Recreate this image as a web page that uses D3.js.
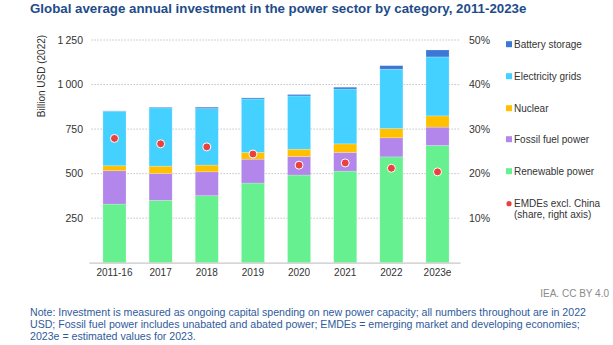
<!DOCTYPE html>
<html>
<head>
<meta charset="utf-8">
<script src="https://cdn.jsdelivr.net/npm/d3@7"></script>
<style>
  body { margin: 0; background: #fff; }
  svg { font-family: "Liberation Sans", Arial, sans-serif; }
</style>
</head>
<body>
<svg id="chart" width="613" height="345"></svg>
<script>
"use strict";

// data (billion USD 2022, share in %)
const years = ['2011-16', '2017', '2018', '2019', '2020', '2021', '2022', '2023e'];
const renewable = [329, 350, 376, 447, 492, 514, 594, 658];
const fossil = [187, 151, 134, 134, 104, 105, 107, 103];
const nuclear = [28, 41, 38, 38, 41, 48, 52, 63];
const grids = [306, 327, 317, 300, 299, 308, 333, 331];
const battery = [2, 4, 8, 6, 8, 10, 20, 39];
const emdeShare = [27.9, 26.7, 26.0, 24.4, 21.9, 22.4, 21.2, 20.4];

const leftTicks = [250, 500, 750, 1000, 1250];
const rightTicks = [10, 20, 30, 40, 50];

const series = [
  { key: 'renewable', name: 'Renewable power', color: '#66f08f', values: renewable },
  { key: 'fossil', name: 'Fossil fuel power', color: '#b286ea', values: fossil },
  { key: 'nuclear', name: 'Nuclear', color: '#ffc000', values: nuclear },
  { key: 'grids', name: 'Electricity grids', color: '#45d1ff', values: grids },
  { key: 'battery', name: 'Battery storage', color: '#3b78d6', values: battery }
];

(function () {
  let svg = d3.select('#chart');

  let plotLeft = 91.4, plotRight = 460.6, plotTop = 40, plotBottom = 262.7;

  let x = d3.scaleBand().domain(years).range([plotLeft, plotRight]).paddingInner(0.5).paddingOuter(0.25);
  let y = d3.scaleLinear().domain([0, 1250]).range([plotBottom, plotTop]);
  let y2 = d3.scaleLinear().domain([0, 50]).range([plotBottom, plotTop]);

  // title
  svg.append('text')
    .attr('x', 30).attr('y', 13)
    .attr('fill', '#1e4c8a')
    .style('font-weight', 'bold')
    .style('font-size', '13.3px')
    .text('Global average annual investment in the power sector by category, 2011-2023e');

  // gridlines
  svg.append('g').selectAll('line').data(leftTicks).enter().append('line')
    .attr('x1', plotLeft).attr('x2', plotRight)
    .attr('y1', d => y(d)).attr('y2', d => y(d))
    .attr('stroke', '#b5b5b5').attr('stroke-width', 0.8)
    .attr('stroke-dasharray', '1.5,1.5');

  // left axis labels
  svg.append('g').selectAll('text').data(leftTicks).enter().append('text')
    .attr('x', 83).attr('y', d => y(d) + 3.5)
    .attr('text-anchor', 'end')
    .attr('fill', '#333').style('font-size', '10.5px')
    .text(d => d3.format(',')(d).replace(',', '\u202f'));

  // right axis labels
  svg.append('g').selectAll('text').data(rightTicks).enter().append('text')
    .attr('x', 469).attr('y', d => y2(d) + 3.5)
    .attr('fill', '#333').style('font-size', '10.5px')
    .text(d => d + '%');

  // y axis title
  svg.append('text')
    .attr('transform', 'translate(45,76) rotate(-90)')
    .attr('text-anchor', 'middle')
    .attr('fill', '#333').style('font-size', '10px')
    .text('Billion USD (2022)');

  // stacked bars
  let rows = years.map((yr, i) => {
    let row = { year: yr };
    series.forEach(s => { row[s.key] = s.values[i]; });
    return row;
  });
  let stack = d3.stack().keys(series.map(s => s.key))(rows);

  svg.append('g').selectAll('g').data(stack).enter().append('g')
    .attr('fill', (d, i) => series[i].color)
    .selectAll('rect').data(d => d).enter().append('rect')
    .attr('x', d => x(d.data.year))
    .attr('width', x.bandwidth())
    .attr('y', d => y(d[1]))
    .attr('height', d => y(d[0]) - y(d[1]))
    .attr('stroke', 'rgba(255,255,255,0.35)')
    .attr('stroke-width', 0.6);

  // baseline
  svg.append('line')
    .attr('x1', plotLeft - 2).attr('x2', plotRight)
    .attr('y1', plotBottom + 0.5).attr('y2', plotBottom + 0.5)
    .attr('stroke', '#c8c8c8').attr('stroke-width', 1.2);

  // x labels
  svg.append('g').selectAll('text').data(years).enter().append('text')
    .attr('x', d => x(d) + x.bandwidth() / 2).attr('y', 275.5)
    .attr('text-anchor', 'middle')
    .attr('fill', '#333').style('font-size', '10px')
    .text(d => d);

  // EMDE share dots
  svg.append('g').selectAll('circle').data(emdeShare).enter().append('circle')
    .attr('cx', (d, i) => x(years[i]) + x.bandwidth() / 2)
    .attr('cy', d => y2(d))
    .attr('r', 4)
    .attr('fill', '#e8423f')
    .attr('stroke', '#fff').attr('stroke-width', 1);

  // legend
  let legendY = [171.7, 139.7, 108.7, 76.7, 44.7];
  let legend = svg.append('g');
  series.forEach((s, i) => {
    legend.append('rect')
      .attr('x', 506).attr('y', legendY[i] - 3.5)
      .attr('width', 6).attr('height', 6)
      .attr('fill', s.color);
    legend.append('text')
      .attr('x', 514).attr('y', legendY[i] + 3.5)
      .attr('fill', '#333').style('font-size', '10px')
      .text(s.name);
  });
  legend.append('circle')
    .attr('cx', 509).attr('cy', 203.7).attr('r', 2.6).attr('fill', '#e8423f');
  legend.append('text')
    .attr('x', 514).attr('y', 207.2)
    .attr('fill', '#333').style('font-size', '10px')
    .text('EMDEs excl. China');
  legend.append('text')
    .attr('x', 514).attr('y', 218)
    .attr('fill', '#333').style('font-size', '10px')
    .text('(share, right axis)');

  // source
  svg.append('text')
    .attr('x', 609).attr('y', 297)
    .attr('text-anchor', 'end')
    .attr('fill', '#8a8a8a').style('font-size', '10px')
    .text('IEA. CC BY 4.0');

  // note
  let noteLines = [
    'Note: Investment is measured as ongoing capital spending on new power capacity; all numbers throughout are in 2022',
    'USD; Fossil fuel power includes unabated and abated power; EMDEs = emerging market and developing economies;',
    '2023e = estimated values for 2023.'
  ];
  svg.append('g').selectAll('text').data(noteLines).enter().append('text')
    .attr('x', 30).attr('y', (d, i) => 316 + i * 11.8)
    .attr('fill', '#2f5b9c').style('font-size', '10.6px')
    .text(d => d);
})();
</script>
</body>
</html>
